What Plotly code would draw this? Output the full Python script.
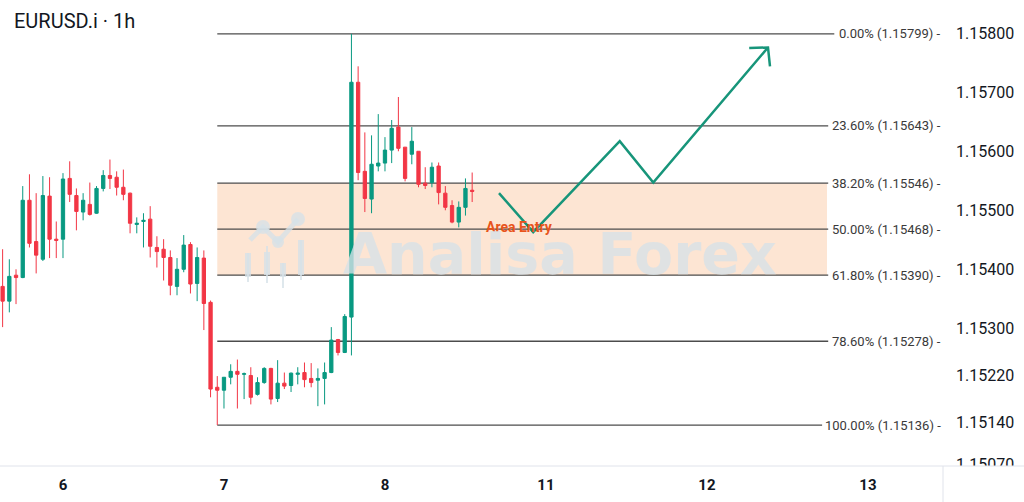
import plotly.graph_objects as go

# hourly bars, x = hours counted from the start of day 6
bar_hour = list(range(-9, 62))
opens = [1.15371, 1.15346, 1.15390, 1.15386, 1.15517, 1.15447, 1.15417, 1.15524, 1.15451, 1.15451,
         1.15554, 1.15525, 1.15497, 1.15510, 1.15495, 1.15537, 1.15559, 1.15556, 1.15539, 1.15529,
         1.15476, 1.15481, 1.15485, 1.15437, 1.15434, 1.15420, 1.15371, 1.15400, 1.15442, 1.15376,
         1.15419, 1.15344, 1.15200, 1.15195, 1.15217, 1.15227, 1.15222, 1.15220, 1.15188, 1.15208,
         1.15232, 1.15181, 1.15207, 1.15203, 1.15222, 1.15225, 1.15215, 1.15212, 1.15215, 1.15225,
         1.15281, 1.15259, 1.15319, 1.15717, 1.15566, 1.15519, 1.15575, 1.15580, 1.15602, 1.15641,
         1.15607, 1.15595, 1.15600, 1.15546, 1.15547, 1.15575, 1.15529, 1.15508, 1.15480, 1.15505,
         1.15534]
highs = [1.15434, 1.15417, 1.15400, 1.15541, 1.15561, 1.15529, 1.15558, 1.15556, 1.15481, 1.15563,
         1.15583, 1.15537, 1.15529, 1.15547, 1.15541, 1.15568, 1.15586, 1.15566, 1.15569, 1.15530,
         1.15488, 1.15495, 1.15507, 1.15456, 1.15451, 1.15432, 1.15419, 1.15458, 1.15446, 1.15437,
         1.15432, 1.15347, 1.15219, 1.15217, 1.15239, 1.15247, 1.15225, 1.15234, 1.15217, 1.15234,
         1.15233, 1.15246, 1.15225, 1.15225, 1.15234, 1.15242, 1.15241, 1.15232, 1.15242, 1.15302,
         1.15282, 1.15324, 1.15799, 1.15744, 1.15632, 1.15627, 1.15663, 1.15624, 1.15653, 1.15692,
         1.15607, 1.15641, 1.15600, 1.15573, 1.15581, 1.15581, 1.15541, 1.15517, 1.15515, 1.15554,
         1.15564]
lows = [1.15302, 1.15327, 1.15341, 1.15385, 1.15437, 1.15393, 1.15414, 1.15419, 1.15419, 1.15419,
        1.15514, 1.15466, 1.15483, 1.15491, 1.15494, 1.15532, 1.15536, 1.15525, 1.15517, 1.15461,
        1.15461, 1.15437, 1.15420, 1.15403, 1.15381, 1.15356, 1.15356, 1.15395, 1.15359, 1.15346,
        1.15297, 1.15183, 1.15136, 1.15164, 1.15205, 1.15164, 1.15180, 1.15171, 1.15186, 1.15206,
        1.15171, 1.15175, 1.15197, 1.15192, 1.15205, 1.15200, 1.15200, 1.15168, 1.15171, 1.15224,
        1.15254, 1.15258, 1.15254, 1.15551, 1.15497, 1.15495, 1.15566, 1.15566, 1.15580, 1.15600,
        1.15549, 1.15578, 1.15539, 1.15536, 1.15539, 1.15510, 1.15500, 1.15478, 1.15471, 1.15491,
        1.15514]
closes = [1.15346, 1.15388, 1.15386, 1.15517, 1.15444, 1.15424, 1.15525, 1.15451, 1.15449, 1.15553,
          1.15527, 1.15498, 1.15517, 1.15493, 1.15537, 1.15559, 1.15554, 1.15539, 1.15527, 1.15478,
          1.15478, 1.15483, 1.15439, 1.15430, 1.15420, 1.15373, 1.15400, 1.15441, 1.15375, 1.15420,
          1.15342, 1.15197, 1.15195, 1.15217, 1.15227, 1.15222, 1.15223, 1.15183, 1.15208, 1.15232,
          1.15180, 1.15207, 1.15202, 1.15224, 1.15224, 1.15213, 1.15208, 1.15215, 1.15225, 1.15280,
          1.15259, 1.15320, 1.15717, 1.15564, 1.15520, 1.15578, 1.15580, 1.15602, 1.15639, 1.15605,
          1.15554, 1.15617, 1.15544, 1.15542, 1.15573, 1.15530, 1.15505, 1.15480, 1.15505, 1.15537,
          1.15532]

day_ticks = [0, 24, 48, 72, 96, 120]
day_labels = ['6', '7', '8', '11', '12', '13']
price_ticks = [1.15070, 1.15140, 1.15220, 1.15300, 1.15400, 1.15500, 1.15600, 1.15700, 1.15800]

fib_pct = ['0.00%', '23.60%', '38.20%', '50.00%', '61.80%', '78.60%', '100.00%']
fib_price = [1.15799, 1.15643, 1.15546, 1.15468, 1.15390, 1.15278, 1.15136]
fib_start = 23  # bar of the swing low

# projected move
path_x = [65, 70.1, 83, 88, 105.1]
path_y = [1.15529, 1.15463, 1.15617, 1.15547, 1.15776]
head_x = [102.3, 105.1, 105.4]
head_y = [1.15775, 1.15776, 1.15744]

entry_x, entry_y = 68.0, 1.15471

x_range = [-9.39, 131.19]
y_range = [1.150666, 1.158564]
plot_w, plot_h = 943, 466


def px_to_x(p):
    return x_range[0] + p / plot_w * (x_range[1] - x_range[0])


def pp(px, py):
    return px / plot_w, 1 - py / plot_h


green = '#089981'
red = '#F23645'
wm = 'rgba(214,226,232,0.78)'

fig = go.Figure()
fig.add_trace(go.Candlestick(
    x=bar_hour, open=opens, high=highs, low=lows, close=closes,
    increasing=dict(line=dict(color=green, width=1), fillcolor=green),
    decreasing=dict(line=dict(color=red, width=1), fillcolor=red),
    whiskerwidth=0, showlegend=False, hoverinfo='skip'))

fig.add_trace(go.Scatter(x=path_x, y=path_y, mode='lines',
                         line=dict(color='#17957A', width=2.5), showlegend=False, hoverinfo='skip'))
fig.add_trace(go.Scatter(x=head_x, y=head_y, mode='lines',
                         line=dict(color='#17957A', width=2.5), showlegend=False, hoverinfo='skip'))

shapes = []
# entry zone between 38.2% and 61.8%
shapes.append(dict(type='rect', xref='x', yref='y', x0=fib_start, x1=px_to_x(827),
                   y0=fib_price[4], y1=fib_price[2], fillcolor='#FDE5D3', line_width=0, layer='below'))

annotations = []
for pct, price in zip(fib_pct, fib_price):
    label = '%s (%.5f) -' % (pct, price)
    end_px = plot_w - 6.1 * len(label) - 5
    shapes.append(dict(type='line', xref='x', yref='y', x0=fib_start, x1=px_to_x(end_px),
                       y0=price, y1=price, line=dict(color='#4d4d4d', width=1.3), layer='below'))
    annotations.append(dict(xref='paper', yref='y', x=1, y=price, text=label, showarrow=False,
                            xanchor='right', yanchor='middle',
                            font=dict(family='Roboto', size=13, color='#3a3a3a')))

annotations.append(dict(xref='x', yref='y', x=entry_x, y=entry_y, text='Area Entry', showarrow=False,
                        font=dict(family='Roboto', size=14, color='#E8541C', weight='bold')))

# watermark
cx, cy = pp(560, 254)
annotations.append(dict(xref='paper', yref='paper', x=cx, y=cy, text='Analisa Forex', showarrow=False,
                        font=dict(family='DejaVu Sans', size=57, color=wm, weight='bold')))
pts = [pp(250, 240), pp(263, 227), pp(278, 242), pp(298, 219)]
path = 'M ' + ' L '.join('%.4f %.4f' % p for p in pts)
shapes.append(dict(type='path', xref='paper', yref='paper', path=path,
                   line=dict(color=wm, width=5), layer='above'))
for (bx, by, r) in [(263, 227, 7), (278, 242, 6), (298, 219, 7)]:
    x0, y0 = pp(bx - r, by - r)
    x1, y1 = pp(bx + r, by + r)
    shapes.append(dict(type='circle', xref='paper', yref='paper', x0=x0, x1=x1, y0=y1, y1=y0,
                       fillcolor=wm, line_width=0, layer='above'))
for (bx, top, bot, wt, wb) in [(248, 253, 277, 253, 282), (267, 252, 275, 246, 283),
                               (283, 263, 277, 263, 288), (301, 240, 275, 240, 280)]:
    x0, y0 = pp(bx - 3, top)
    x1, y1 = pp(bx + 3, bot)
    shapes.append(dict(type='rect', xref='paper', yref='paper', x0=x0, x1=x1, y0=y1, y1=y0,
                       fillcolor=wm, line_width=0, layer='above'))
    x0, y0 = pp(bx - 1, wt)
    x1, y1 = pp(bx + 1, wb)
    shapes.append(dict(type='rect', xref='paper', yref='paper', x0=x0, x1=x1, y0=y1, y1=y0,
                       fillcolor=wm, line_width=0, layer='above'))

# price-scale corner: hide the clipped part of the lowest label, then axis borders
shapes.append(dict(type='rect', xref='paper', yref='paper', x0=1, x1=1024 / plot_w,
                   y0=-36 / plot_h, y1=0, fillcolor='white', line_width=0, layer='above'))
shapes.append(dict(type='line', xref='paper', yref='paper', x0=0, x1=1024 / plot_w, y0=0, y1=0,
                   line=dict(color='#E0E3EB', width=1), layer='above'))
shapes.append(dict(type='line', xref='paper', yref='paper', x0=1, x1=1, y0=-36 / plot_h, y1=0,
                   line=dict(color='#E0E3EB', width=1), layer='above'))

# title
tx, ty = pp(12, 21)
annotations.append(dict(xref='paper', yref='paper', x=tx, y=ty, text='EURUSD.i · 1h', showarrow=False,
                        xanchor='left', yanchor='middle',
                        font=dict(family='Roboto', size=20, color='#131722')))

fig.update_layout(
    width=1024, height=502,
    margin=dict(l=0, r=1024 - plot_w, t=0, b=502 - plot_h),
    paper_bgcolor='white', plot_bgcolor='white',
    showlegend=False,
    shapes=shapes, annotations=annotations,
    xaxis=dict(range=x_range, rangeslider=dict(visible=False), showgrid=False, zeroline=False,
               showline=False, tickmode='array', tickvals=day_ticks, ticktext=day_labels,
               tickfont=dict(family='Roboto', size=15, color='#131722', weight='bold'),
               ticks='', ticklabelstandoff=8),
    yaxis=dict(range=y_range, side='right', showgrid=False, zeroline=False, showline=False,
               tickmode='array', tickvals=price_ticks, ticktext=['%.5f' % v for v in price_ticks],
               tickfont=dict(family='Roboto', size=16, color='#131722'),
               ticks='', ticklabelstandoff=12),
)

# the page is photographed at exactly 1024x502, so drop the default body margin
fig.write_html("out.html", config={'displayModeBar': False},
               post_script="document.body.style.margin='0';")
